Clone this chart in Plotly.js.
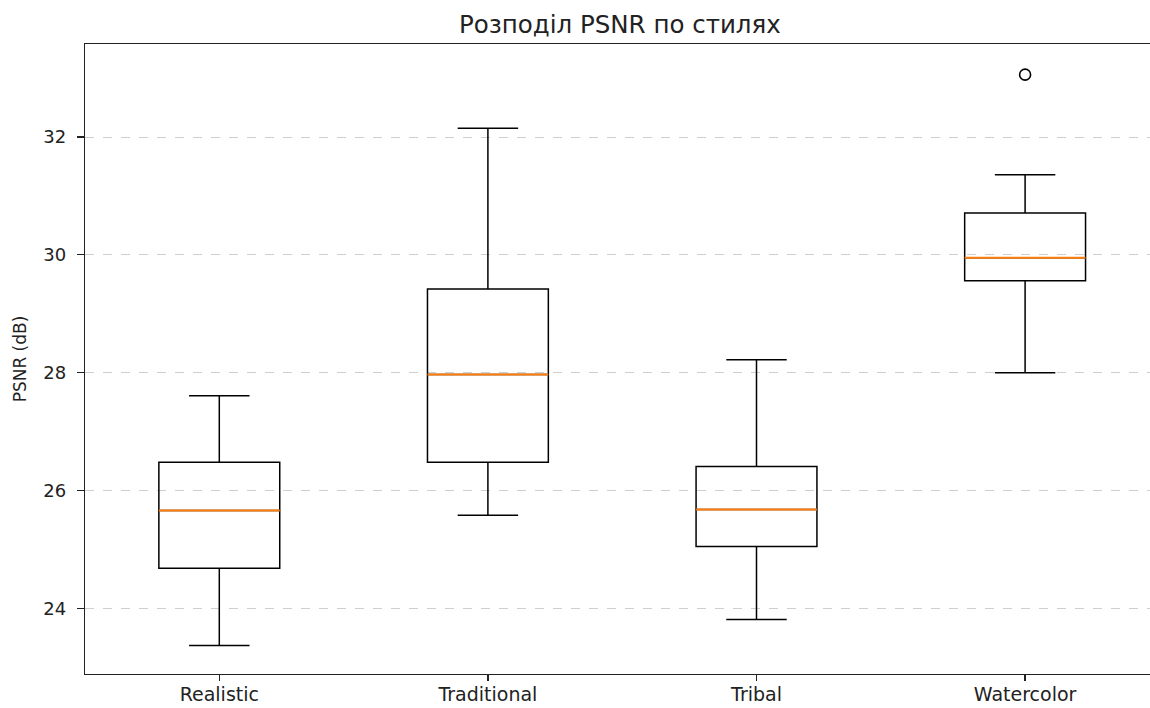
<!DOCTYPE html>
<html>
<head>
<meta charset="utf-8">
<script src="https://cdn.plot.ly/plotly-3.0.1.min.js"></script>
<style>html,body{margin:0;padding:0;background:#fff;}#chart{width:1150px;height:708px;}</style>
</head>
<body>
<div id="chart"></div>
<script>
const categories = ["Realistic", "Traditional", "Tribal", "Watercolor"];
const lowerWhisker = [23.37, 25.58, 23.81, 28.00];
const q1Values = [24.68, 26.48, 25.05, 29.56];
const medianValues = [25.66, 27.97, 25.68, 29.95];
const q3Values = [26.48, 29.42, 26.41, 30.71];
const upperWhisker = [27.61, 32.15, 28.22, 31.36];
const outlierCategory = ["Watercolor"];
const outlierValues = [33.06];

const positions = categories.map((c, i) => i + 1);
const boxWidth = 0.45;

const traces = [{
  type: 'box',
  x: positions,
  q1: q1Values,
  median: medianValues,
  q3: q3Values,
  lowerfence: lowerWhisker,
  upperfence: upperWhisker,
  width: boxWidth,
  whiskerwidth: 0.5,
  line: {color: '#000000', width: 1.5},
  fillcolor: 'rgba(255,255,255,0)',
  boxpoints: false,
  hoverinfo: 'skip',
  showlegend: false
}];

const mx = [], my = [];
positions.forEach((p, i) => {
  mx.push(p - boxWidth / 2, p + boxWidth / 2, null);
  my.push(medianValues[i], medianValues[i], null);
});
traces.push({
  type: 'scatter', mode: 'lines', x: mx, y: my,
  line: {color: '#ff7f0e', width: 2}, showlegend: false, hoverinfo: 'skip'
});

traces.push({
  type: 'scatter', mode: 'markers',
  x: outlierCategory.map(c => categories.indexOf(c) + 1),
  y: outlierValues,
  marker: {symbol: 'circle-open', size: 11, color: '#000000', line: {width: 1.6, color: '#000000'}},
  showlegend: false, hoverinfo: 'skip'
});

const layout = {
  width: 1150, height: 708,
  margin: {l: 85, r: 0, t: 44, b: 34},
  paper_bgcolor: '#ffffff', plot_bgcolor: '#ffffff',
  font: {family: 'DejaVu Sans', color: '#222222', size: 18},
  title: {text: 'Розподіл PSNR по стилях', font: {size: 24.5, family: 'DejaVu Sans', color: '#222222'}, x: 0.539, xanchor: 'center', y: 0.966, yanchor: 'middle'},
  xaxis: {
    range: [0.5, 4.465], tickmode: 'array', tickvals: positions, ticktext: categories,
    showgrid: false, zeroline: false, showline: true, linecolor: '#222222', linewidth: 1.2,
    mirror: true, ticks: 'outside', ticklen: 6, tickcolor: '#222222', tickwidth: 1.2,
    ticklabelstandoff: -3,
    tickfont: {size: 19}
  },
  yaxis: {
    range: [22.886, 33.58], tickmode: 'array', tickvals: [24, 26, 28, 30, 32],
    showgrid: true, gridcolor: '#cfcfcf', griddash: 'dash', gridwidth: 1,
    zeroline: false, showline: true, linecolor: '#222222', linewidth: 1.2,
    ticks: 'outside', ticklen: 7, tickcolor: '#222222', tickwidth: 1.2,
    ticklabelstandoff: 7,
    tickfont: {size: 18},
    title: {text: 'PSNR (dB)', font: {size: 17}, standoff: 12}
  },
  showlegend: false
};

Plotly.newPlot('chart', traces, layout, {displayModeBar: false, staticPlot: true});
</script>
</body>
</html>
